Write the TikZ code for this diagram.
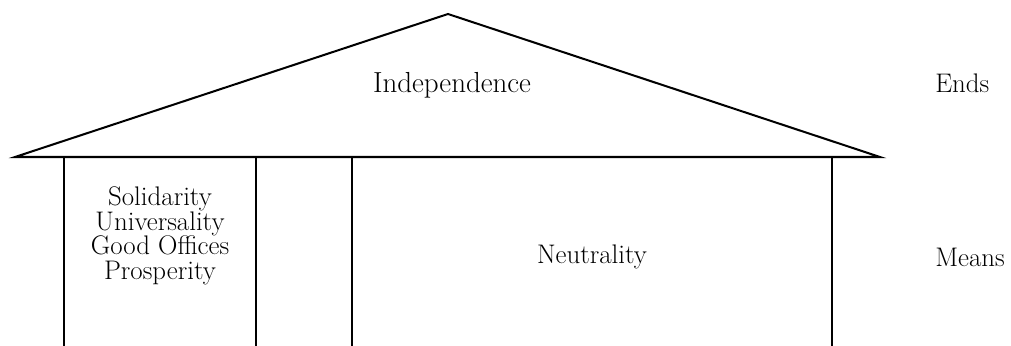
\documentclass[tikz,border=0pt]{standalone}
\begin{document}
\begin{tikzpicture}[
  x=0.02cm, y=-0.02cm,
  wall/.style={line width=1.15pt},
  lbl/.style={font=\fontsize{15.3}{14}\selectfont, inner sep=0pt},
  side/.style={lbl, anchor=base west},
]
\useasboundingbox (0,0) rectangle (1011,345);

% --- Roof ---
\coordinate (apex) at (448,14);
\coordinate (eaveL) at (15,157);
\coordinate (eaveR) at (880,157);
\draw[wall] (eaveL) -- (apex) -- (eaveR) -- cycle;
\node[lbl, font=\fontsize{16.5}{18}\selectfont, anchor=base] (indep) at (452,92) {Independence};

% --- Pillars ---
\foreach \x in {64,256,352,832}
  \draw[wall] (\x,157) -- (\x,346);
\node[lbl, font=\fontsize{15.3}{14}\selectfont, align=center] (values) at (160,236) {Solidarity\\Universality\\Good Offices\\Prosperity};
\node[lbl, anchor=base] (neutral) at (592,263) {Neutrality};

% --- Labels on the right ---
\node[side] (ends) at (935,92) {Ends};
\node[side] (means) at (935,266) {Means};
\end{tikzpicture}
\end{document}
